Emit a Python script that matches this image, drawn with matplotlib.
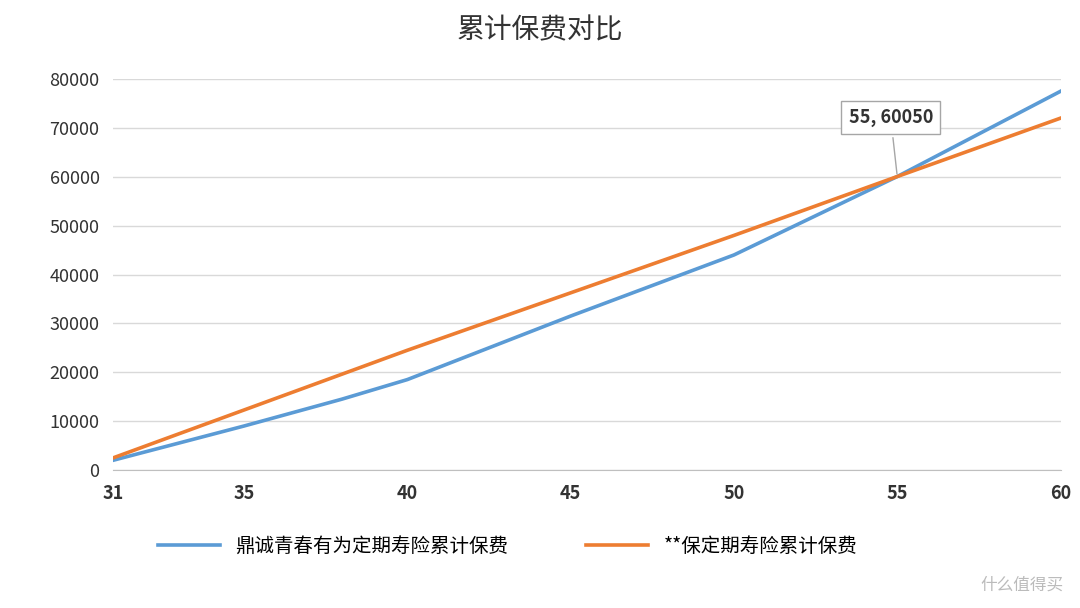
import matplotlib
matplotlib.use("Agg")
import matplotlib.pyplot as plt

plt.rcParams['font.family'] = ['Noto Sans CJK SC', 'DejaVu Sans']

ages = [31, 35, 38, 40, 45, 50, 55, 60]
blue_vals = [2000, 9000, 14500, 18500, 31500, 44000, 60050, 77500]
orange_ages = [31, 40, 50, 55, 60]
orange_vals = [2500, 24500, 48000, 60050, 72000]
xticks = [31, 35, 40, 45, 50, 55, 60]
yticks = [0, 10000, 20000, 30000, 40000, 50000, 60000, 70000, 80000]

fig = plt.figure(figsize=(10.8, 6.08), dpi=100)
ax = fig.add_axes([0.105, 0.227, 0.877, 0.643])

ax.plot(ages, blue_vals, color='#5b9bd5', lw=2.6, label='鼎诚青春有为定期寿险累计保费')
ax.plot(orange_ages, orange_vals, color='#ed7d31', lw=2.6, label='**保定期寿险累计保费')

ax.set_xlim(31, 60)
ax.set_ylim(0, 80000)
ax.set_xticks(xticks)
ax.set_yticks(yticks)
ax.tick_params(axis='both', length=0, labelsize=13, colors='#333333', pad=10)
for lbl in ax.get_xticklabels():
    lbl.set_fontweight('bold')
ax.grid(axis='y', color='#d9d9d9', lw=1)
ax.set_axisbelow(True)
for s in ['top', 'right', 'left']:
    ax.spines[s].set_visible(False)
ax.spines['bottom'].set_color('#bfbfbf')

ax.annotate('55, 60050', xy=(55, 60050), xytext=(54.8, 71000),
            fontsize=13, fontweight='bold', color='#333333', ha='center',
            bbox=dict(boxstyle='square,pad=0.4', fc='white', ec='#a6a6a6'),
            arrowprops=dict(arrowstyle='-', color='#a6a6a6', lw=1))

fig.suptitle('累计保费对比', y=0.975, fontsize=20, color='#333333')
fig.legend(loc='lower center', bbox_to_anchor=(0.47, 0.055), ncol=2, frameon=False,
           fontsize=14, handlelength=3.2, columnspacing=4)
fig.text(0.985, 0.03, '什么值得买', ha='right', fontsize=12, color='#bbbbbb')

fig.savefig('out.png', dpi=100, facecolor='white')
